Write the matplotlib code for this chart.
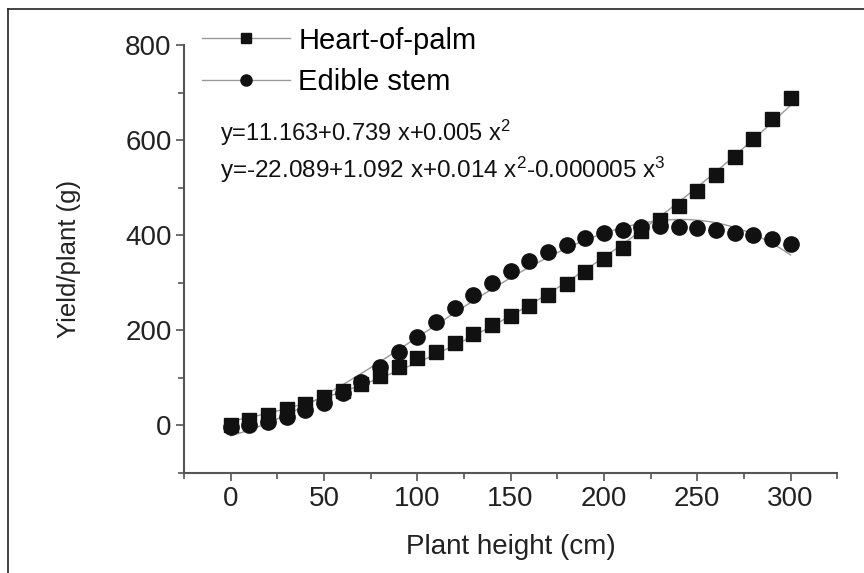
import numpy as np
import matplotlib
matplotlib.use("Agg")
import matplotlib.pyplot as plt
from matplotlib.lines import Line2D
from matplotlib.ticker import MultipleLocator

plt.rcParams['font.family'] = ['Liberation Sans', 'DejaVu Sans']
plt.rcParams['mathtext.fontset'] = 'custom'
plt.rcParams['mathtext.rm'] = 'Liberation Sans'
plt.rcParams['mathtext.it'] = 'Liberation Sans:italic'

# data
height = list(range(0, 310, 10))
heart = [2, 12, 22, 34, 46, 59, 73, 88, 105, 123, 141, 155, 174, 193, 212, 231,
         252, 275, 298, 322, 349, 374, 408, 433, 462, 494, 527, 565, 603, 645, 689]
edible = [-3, 1, 7, 17, 32, 48, 68, 92, 122, 155, 187, 218, 248, 275, 300, 324,
          345, 365, 380, 395, 405, 412, 418, 420, 418, 416, 412, 405, 401, 393, 382]
eq_heart = r"y=11.163+0.739 x+0.005 x$^{2}$"
eq_edible = r"y=-22.089+1.092 x+0.014 x$^{2}$-0.000005 x$^{3}$"

fig = plt.figure(figsize=(8.64, 5.73), dpi=100)
ax = fig.add_axes([0.213, 0.1745, 0.756, 0.747])

# fitted curves (thin grey)
xs = np.linspace(0, 300, 200)
p2 = np.polyfit(height, heart, 2)
p3 = np.polyfit(height, edible, 3)
ax.plot(xs, np.polyval(p2, xs), color='#999999', lw=1)
ax.plot(xs, np.polyval(p3, xs), color='#999999', lw=1)

ax.plot(height, heart, 's', color='#111111', ms=10, ls='none')
ax.plot(height, edible, 'o', color='#111111', ms=11, ls='none')

# legend handles: grey line with black marker
h1 = Line2D([], [], color='#999999', lw=1, marker='s', ms=7,
            markerfacecolor='#111111', markeredgecolor='#111111')
h2 = Line2D([], [], color='#999999', lw=1, marker='o', ms=8,
            markerfacecolor='#111111', markeredgecolor='#111111')
ax.legend([h1, h2], ['Heart-of-palm', 'Edible stem'], loc='upper left',
          bbox_to_anchor=(0.01, 1.07), frameon=False, fontsize=21,
          handlelength=3.0, handletextpad=0.3, labelspacing=0.45,
          borderpad=0.2, borderaxespad=0.2)

# equations, placed in pixel terms of the axes box
def px_to_ax(x, y):
    return (x - 184) / 653.0, (473 - y) / 428.0

ax.text(*px_to_ax(220, 141), eq_heart, transform=ax.transAxes,
        fontsize=17, color='#111111')
ax.text(*px_to_ax(220, 178), eq_edible, transform=ax.transAxes,
        fontsize=17.5, color='#111111')

ax.set_xlim(-25, 325)
ax.set_ylim(-100, 800)
ax.xaxis.set_major_locator(MultipleLocator(50))
ax.xaxis.set_minor_locator(MultipleLocator(25))
ax.yaxis.set_major_locator(MultipleLocator(200))
ax.yaxis.set_minor_locator(MultipleLocator(100))
ax.set_xticks([0, 50, 100, 150, 200, 250, 300])

for s in ['top', 'right']:
    ax.spines[s].set_visible(False)
for s in ['left', 'bottom']:
    ax.spines[s].set_color('#555555')
    ax.spines[s].set_linewidth(1.5)

ax.tick_params(which='major', length=6, width=1.2, color='#555555',
               labelsize=20, labelcolor='#222222', pad=3)
ax.tick_params(which='minor', length=4, width=1.2, color='#555555')

ax.set_xlabel('Plant height (cm)', fontsize=20, color='#222222', labelpad=16)
ax.set_ylabel('Yield/plant (g)', fontsize=18.5, color='#222222', labelpad=32)

# picture border (top and left)
fig.add_artist(Line2D([8 / 864, 1], [1 - 9 / 573, 1 - 9 / 573],
                      transform=fig.transFigure, color='#222222', lw=1.2))
fig.add_artist(Line2D([8 / 864, 8 / 864], [0, 1 - 9 / 573],
                      transform=fig.transFigure, color='#222222', lw=1.2))

fig.savefig('out.png', dpi=100)
